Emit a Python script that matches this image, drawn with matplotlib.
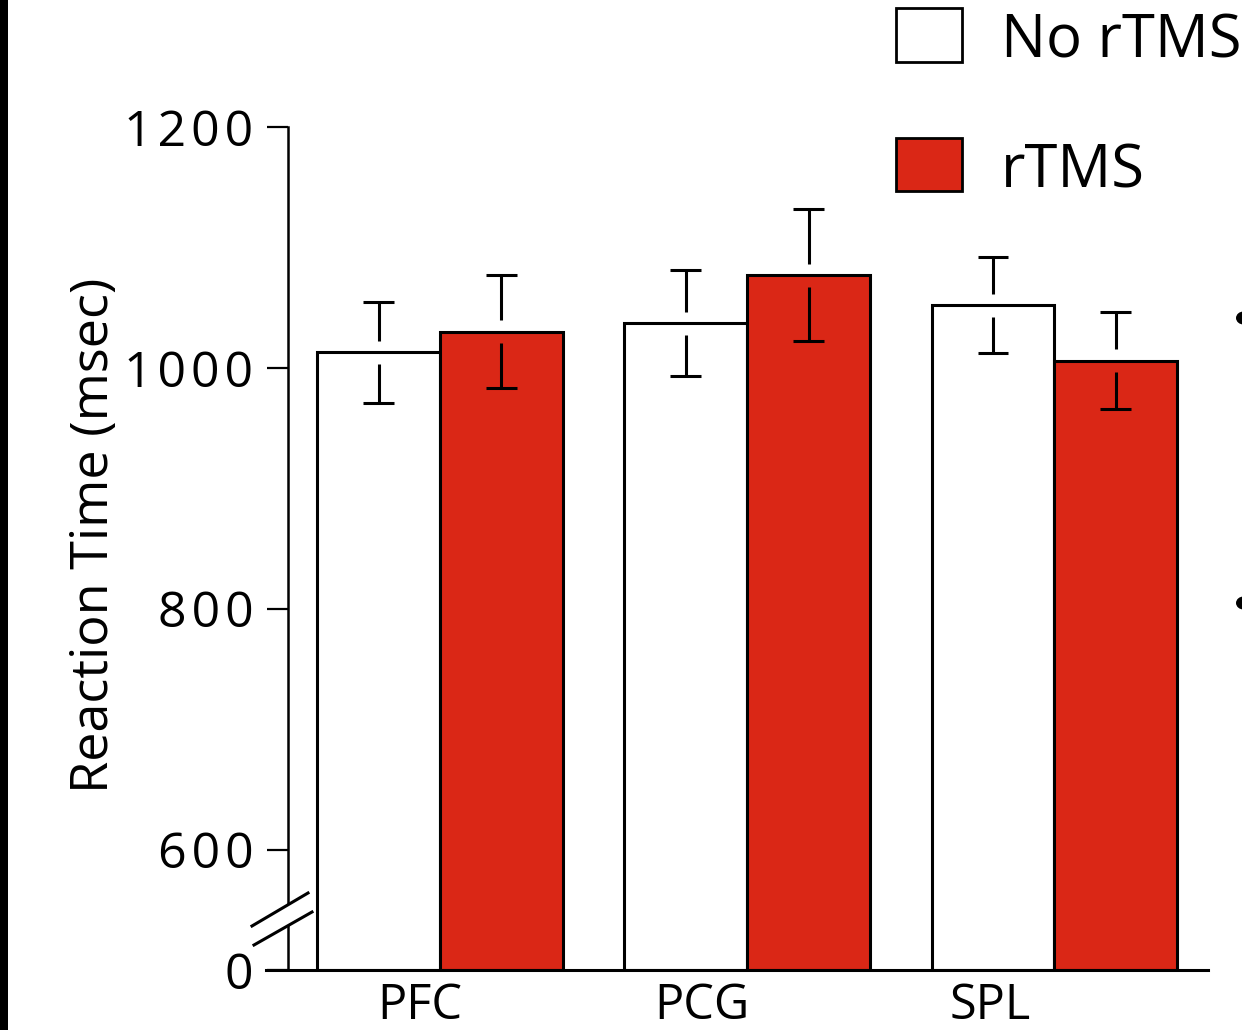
import matplotlib
matplotlib.use("Agg")
import matplotlib.pyplot as plt
from matplotlib.patches import Rectangle, Circle, Polygon
import numpy as np

plt.rcParams['font.family'] = ['Open Sans', 'DejaVu Sans']

# ---- data ----
categories = ["PFC", "PCG", "SPL"]
no_rtms = [1013, 1037, 1052]
no_rtms_err = [42, 44, 40]
rtms = [1030, 1077, 1006]
rtms_err = [47, 55, 40]
series_labels = ["No rTMS", "rTMS"]
ytick_values = [500, 600, 800, 1000, 1200]
ytick_labels = ["0", "600", "800", "1000", "1200"]

RED = "#DA2716"
W, H = 1242, 1030
fig = plt.figure(figsize=(W / 100, H / 100), dpi=100)
ax = fig.add_axes([288 / W, 1 - 970 / H, (1208 - 288) / W, (970 - 127) / H])

x = np.arange(len(categories))
bw = 0.4
base = 500
ax.bar(x - bw / 2, np.array(no_rtms) - base, bw, bottom=base, color="white",
       edgecolor="black", linewidth=2.2, zorder=2)
ax.bar(x + bw / 2, np.array(rtms) - base, bw, bottom=base, color=RED,
       edgecolor="black", linewidth=2.2, zorder=2)

# error bars with a gap around the bar top
gap = 9.5
cap = 0.05
for xs, vals, errs in [(x - bw / 2, no_rtms, no_rtms_err), (x + bw / 2, rtms, rtms_err)]:
    for xi, v, e in zip(xs, vals, errs):
        ax.vlines(xi, v + gap, v + e, color="black", lw=2.2, zorder=3)
        ax.vlines(xi, v - e, v - gap, color="black", lw=2.2, zorder=3)
        ax.hlines([v + e, v - e], xi - cap, xi + cap, color="black", lw=2.2, zorder=3)

# letter-spaced tick labels (hair spaces between digits)
def track(s):
    return "\u200a".join(s)

ax.set_xlim(-0.495, 2.50)
ax.set_ylim(500, 1200)
ax.set_yticks(ytick_values)
ax.set_yticklabels([track(t) for t in ytick_labels], fontsize=36)
ax.set_xticks([-0.065, 0.853, 1.792])
ax.set_xticklabels(categories, fontsize=35)
ax.tick_params(axis='x', length=0, pad=8)
ax.tick_params(axis='y', length=15, width=1.6, pad=10)
for s in ['top', 'right']:
    ax.spines[s].set_visible(False)
ax.spines['left'].set_linewidth(1.8)
ax.spines['bottom'].set_linewidth(2.2)
ax.spines['bottom'].set_bounds(-0.565, 2.50)

# axis break marks (pixel-based in figure coords)
def fp(px, py):
    return (px / W, 1 - py / H)

gap_poly = Polygon([fp(252, 926), fp(308, 893), fp(312, 912), fp(254, 945)],
                   closed=True, transform=fig.transFigure, facecolor="white",
                   edgecolor="none", zorder=5)
fig.patches.append(gap_poly)
for (a, b) in [((252, 926), (308, 893)), ((254, 945), (312, 912))]:
    p1, p2 = fp(*a), fp(*b)
    fig.lines.append(plt.Line2D([p1[0], p2[0]], [p1[1], p2[1]], transform=fig.transFigure,
                                color="black", lw=2.2, zorder=6))

# legend (manual)
for (y0, y1, col, lab) in [(8, 62, "white", series_labels[0]), (138, 191, RED, series_labels[1])]:
    fig.patches.append(Rectangle(fp(896, y1), 66 / W, (y1 - y0) / H, transform=fig.transFigure,
                                 facecolor=col, edgecolor="black", lw=2.0))
    fig.text(1001 / W, 1 - (y1 - 4) / H, lab, fontsize=43, ha='left', va='baseline')

# y label
fig.text(95 / W, 1 - 535 / H, "Reaction Time (msec)", rotation=90, fontsize=37.5,
         ha='center', va='center')

# black strip at left edge
fig.patches.append(Rectangle((0, 0), 8 / W, 1, transform=fig.transFigure,
                             facecolor="black", edgecolor="none"))
# partial dots at right edge
for py in [318, 603]:
    fig.patches.append(Circle(fp(1244, py), 8 / W, transform=fig.transFigure,
                              facecolor="black", edgecolor="none"))

fig.savefig("out.png", dpi=100)
